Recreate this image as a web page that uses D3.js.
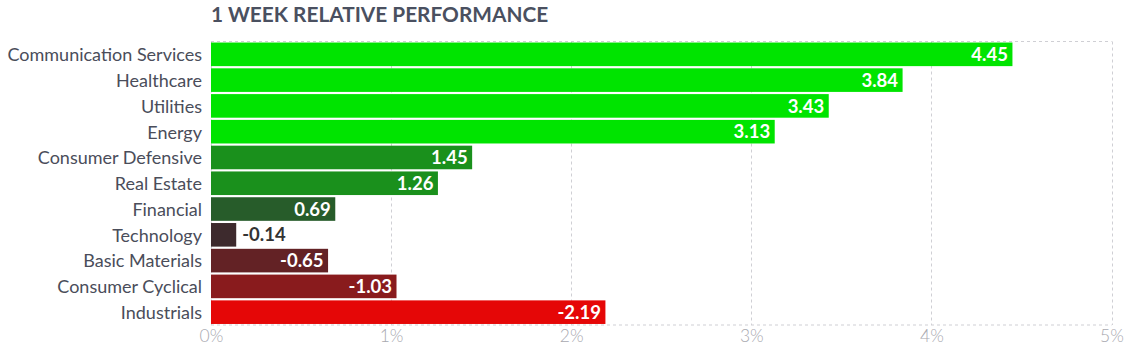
<!DOCTYPE html>
<html><head><meta charset="utf-8">
<script src="https://cdn.jsdelivr.net/npm/d3@7/dist/d3.min.js"></script>
<style>body{margin:0;background:#fff;} svg{display:block;font-family:Lato, sans-serif;}</style>
</head><body>
<svg id="c" width="1132" height="351"></svg>
<script>
const categories = ["Communication Services","Healthcare","Utilities","Energy","Consumer Defensive","Real Estate","Financial","Technology","Basic Materials","Consumer Cyclical","Industrials"];
const values = [4.45,3.84,3.43,3.13,1.45,1.26,0.69,-0.14,-0.65,-1.03,-2.19];
const barColors = ["#00e400","#00e400","#00e400","#00e400","#1a901c","#1a901c","#275c2a","#3d2a2d","#632225","#891b1d","#e50707"];
const tickValues = [0,1,2,3,4,5];
const title = "1 WEEK RELATIVE PERFORMANCE";

(function(){
const svg = d3.select("#c");
const mLeft = 211, mRight = 1111.5, mTop = 41.5, mBottom = 325;
const x = d3.scaleLinear().domain([0,5]).range([mLeft,mRight]);
const y = d3.scaleBand().domain(categories).range([mTop,mBottom]).paddingInner(0.085).paddingOuter(0.04);

svg.append("text").attr("x",211).attr("y",22).attr("fill","#4a5060")
  .attr("font-size","20.8px").attr("font-weight","700").text(title);

const g = svg.append("g");
g.selectAll("line.v").data(tickValues).join("line")
  .attr("x1",d=>Math.round(x(d))+0.5).attr("x2",d=>Math.round(x(d))+0.5)
  .attr("y1",mTop).attr("y2",mBottom)
  .attr("stroke","#cfcfd4").attr("stroke-dasharray","3,3");
[mTop,mBottom].forEach(yy=>g.append("line").attr("x1",mLeft).attr("x2",mRight).attr("y1",yy).attr("y2",yy)
  .attr("stroke","#cfcfd4").attr("stroke-dasharray","3,3"));

const ax = svg.append("g").attr("transform",`translate(0,${mBottom})`)
  .call(d3.axisBottom(x).tickValues(tickValues).tickFormat(d=>d+"%").tickSize(0).tickPadding(0));
ax.select(".domain").remove();
ax.selectAll("text").attr("fill","#a9a9b0").attr("font-size","17.5px").attr("font-weight","300")
  .attr("font-family","Lato, sans-serif").attr("y",17).attr("dy","0");

const data = categories.map((c,i)=>({c,v:values[i],col:barColors[i]}));
svg.selectAll("rect.bar").data(data).join("rect")
  .attr("x",x(0)).attr("y",d=>y(d.c)).attr("width",d=>x(Math.abs(d.v))-x(0)).attr("height",y.bandwidth())
  .attr("fill",d=>d.col);

svg.selectAll("text.cat").data(data).join("text")
  .attr("x",202).attr("y",d=>y(d.c)+y.bandwidth()/2).attr("dy","0.38em")
  .attr("text-anchor","end").attr("fill","#4a4d5a").attr("font-size","18px").text(d=>d.c);

svg.selectAll("text.val").data(data).join("text")
  .each(function(d){
    const w = x(Math.abs(d.v))-x(0);
    const inside = w > 50;
    d3.select(this)
      .attr("x", inside ? x(Math.abs(d.v))-4.5 : x(Math.abs(d.v))+6)
      .attr("text-anchor", inside ? "end" : "start")
      .attr("fill", inside ? "#ffffff" : "#333333");
  })
  .attr("y",d=>y(d.c)+y.bandwidth()/2).attr("dy","0.36em")
  .attr("font-size","18.5px").attr("font-weight","700").text(d=>d.v.toFixed(2));
})();
</script>
</body></html>
